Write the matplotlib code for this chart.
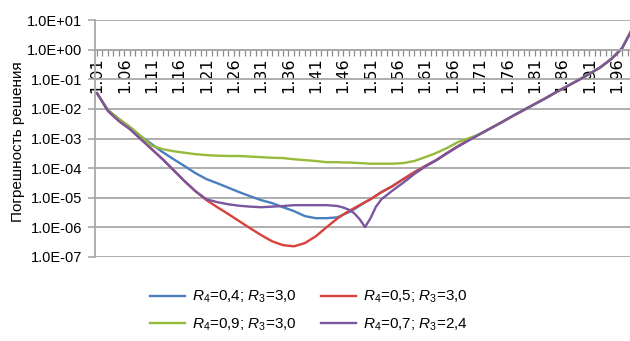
import numpy as np
import matplotlib.pyplot as plt
import matplotlib.ticker as mticker
from matplotlib import font_manager

# condensed font if present
names = {f.name for f in font_manager.fontManager.ttflist}
cond = "Liberation Sans Narrow" if "Liberation Sans Narrow" in names else "Liberation Sans"

plt.rcParams["font.family"] = [cond, "DejaVu Sans"]
plt.rcParams["mathtext.fontset"] = "custom"
plt.rcParams["mathtext.rm"] = cond
plt.rcParams["mathtext.it"] = cond + ":italic"

# category index (0 -> 1.01, step 0.01)
cat_idx = [0, 2, 4, 6, 8, 10, 12, 14, 16, 18, 20, 22, 24, 26, 28, 30, 32, 34, 36, 38,
           40, 42, 44, 45, 46, 47, 48, 49, 50, 51, 52, 54, 56, 58, 60, 62, 64, 66, 68,
           70, 72, 74, 76, 78, 80, 82, 84, 86, 88, 90, 92, 94, 96, 97, 98]

tick_labels = ["1.01", "1.06", "1.11", "1.16", "1.21", "1.26", "1.31", "1.36", "1.41", "1.46",
               "1.51", "1.56", "1.61", "1.66", "1.71", "1.76", "1.81", "1.86", "1.91", "1.96"]

# log10 of error
log_r04 = [-1.47, -2.04, -2.34, -2.61, -2.92, -3.19, -3.46, -3.70, -3.93, -4.17,
           -4.37, -4.51, -4.66, -4.81, -4.95, -5.08, -5.18, -5.32, -5.45, -5.62,
           -5.69, -5.69, -5.66, -5.57, -5.49, -5.39, -5.27, -5.15, -5.05, -4.93, -4.81,
           -4.61, -4.37, -4.14, -3.93, -3.73, -3.49, -3.26, -3.05,
           -2.85, -2.65, -2.45, -2.24, -2.04, -1.84, -1.64, -1.43, -1.23, -1.03,
           -0.82, -0.60, -0.32, 0.05, 0.40, 0.75]

log_r05 = [-1.47, -2.07, -2.41, -2.68, -3.02, -3.36, -3.70, -4.07, -4.44, -4.78,
           -5.08, -5.32, -5.55, -5.79, -6.03, -6.26, -6.47, -6.60, -6.64, -6.53,
           -6.30, -5.99, -5.69, -5.57, -5.45, -5.35, -5.25, -5.15, -5.05, -4.93, -4.81,
           -4.61, -4.37, -4.14, -3.93, -3.73, -3.49, -3.26, -3.05,
           -2.85, -2.65, -2.45, -2.24, -2.04, -1.84, -1.64, -1.43, -1.23, -1.03,
           -0.82, -0.60, -0.32, 0.05, 0.40, 0.75]

log_r09 = [-1.47, -2.04, -2.34, -2.61, -2.92, -3.24, -3.36, -3.43, -3.48, -3.53,
           -3.56, -3.58, -3.59, -3.59, -3.61, -3.63, -3.65, -3.66, -3.70, -3.73,
           -3.76, -3.80, -3.80, -3.81, -3.81, -3.82, -3.83, -3.84, -3.85, -3.85, -3.85,
           -3.85, -3.83, -3.76, -3.63, -3.49, -3.32, -3.12, -2.99,
           -2.85, -2.65, -2.45, -2.24, -2.04, -1.84, -1.64, -1.43, -1.23, -1.03,
           -0.82, -0.60, -0.32, 0.05, 0.40, 0.75]

log_r07 = [-1.47, -2.07, -2.41, -2.68, -3.02, -3.36, -3.70, -4.07, -4.44, -4.78,
           -5.05, -5.15, -5.22, -5.27, -5.30, -5.32, -5.30, -5.28, -5.25, -5.25,
           -5.25, -5.25, -5.28, -5.33, -5.40, -5.52, -5.72, -5.99, -5.69, -5.30, -5.05,
           -4.76, -4.49, -4.20, -3.95, -3.74, -3.50, -3.27, -3.06,
           -2.85, -2.65, -2.45, -2.24, -2.04, -1.84, -1.64, -1.43, -1.23, -1.03,
           -0.82, -0.60, -0.32, 0.05, 0.40, 0.75]

series = [
    (log_r04, "#4a7ebf", r"$R_4$=0,4; $R_3$=3,0"),
    (log_r05, "#d9413a", r"$R_4$=0,5; $R_3$=3,0"),
    (log_r09, "#95bb3a", r"$R_4$=0,9; $R_3$=3,0"),
    (log_r07, "#7b569e", r"$R_4$=0,7; $R_3$=2,4"),
]

fig = plt.figure(figsize=(6.3, 3.41), dpi=100)
ax = fig.add_axes([95 / 630, 1 - 257 / 341, 535 / 630, 237 / 341])

lines = []
for vals, col, lab in series:
    ln, = ax.plot(cat_idx, 10 ** np.array(vals), color=col, lw=1.7, label=lab)
    lines.append(ln)

ax.set_yscale("log")
ax.set_ylim(1e-7, 1e1)
ax.set_xlim(-0.37, 97.44)

grid_col = "#a8a8a8"
ax.yaxis.set_major_locator(mticker.FixedLocator([10.0 ** k for k in range(-7, 2)]))
ax.yaxis.set_minor_locator(mticker.NullLocator())
ax.yaxis.set_major_formatter(mticker.FuncFormatter(lambda v, p: "%.1E" % v))
ax.grid(axis="y", color=grid_col, lw=1.3)
ax.set_axisbelow(True)

# category axis crosses at 1.0E+00
ax.spines["bottom"].set_position(("data", 1.0))
for s in ["top", "right"]:
    ax.spines[s].set_visible(False)
ax.spines["bottom"].set_color(grid_col)
ax.spines["left"].set_color(grid_col)
ax.spines["bottom"].set_linewidth(1.3)
ax.spines["left"].set_linewidth(1.3)

ax.xaxis.set_major_locator(mticker.FixedLocator(range(0, 100, 5)))
ax.xaxis.set_minor_locator(mticker.FixedLocator(range(100)))
ax.set_xticklabels(tick_labels, rotation=90, fontsize=11.5, family="DejaVu Sans",
                   va="top", ha="center")
ax.tick_params(axis="x", which="both", direction="out", length=4, width=0.9,
               color="#8a8a8a", pad=1.5)
ax.tick_params(axis="y", direction="out", length=5, width=1.2, color=grid_col,
               labelsize=10.5, pad=4)

fig.text(18 / 630, 1 - 142 / 341, "Погрешность решения", rotation=90,
         ha="center", va="center", fontsize=11)

# legend rows: blue | red, green | purple
order = [0, 2, 1, 3]
fig.legend([lines[k] for k in order], [series[k][2] for k in order],
           loc="center", bbox_to_anchor=(0.49, 1 - 311 / 341), ncol=2, frameon=False,
           fontsize=11, handlelength=2.3, handletextpad=0.45, columnspacing=1.6,
           labelspacing=0.75)

fig.savefig("out.png", dpi=100)
